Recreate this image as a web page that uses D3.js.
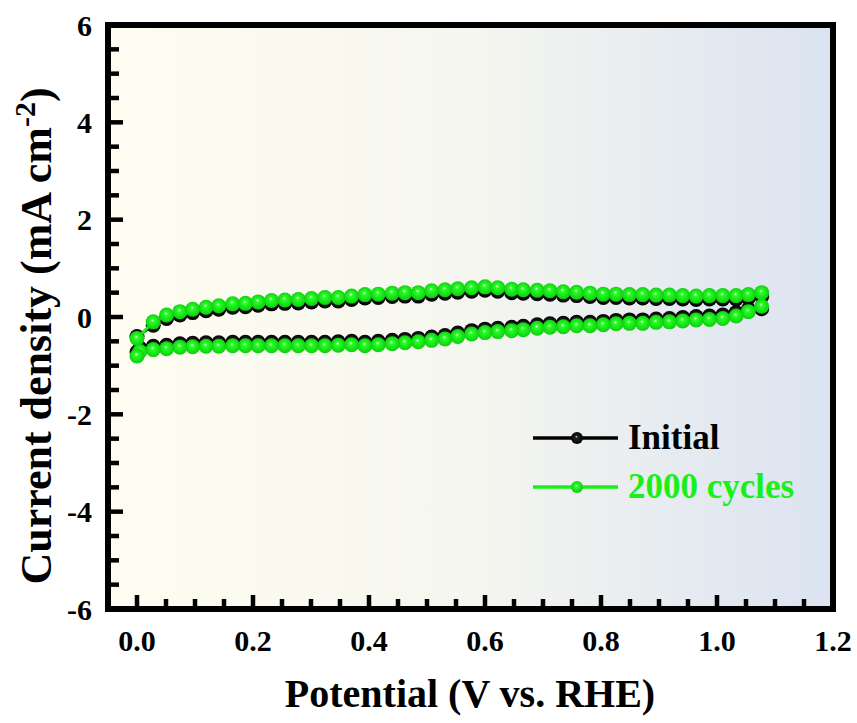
<!DOCTYPE html>
<html>
<head>
<meta charset="utf-8">
<script src="https://cdn.jsdelivr.net/npm/d3@7"></script>
<style>
  body { margin: 0; background: #fff; }
  text { font-family: "Liberation Serif", "Times New Roman", serif; font-weight: bold; }
</style>
</head>
<body>
<div id="chart"></div>
<script>
// potentials (V) for the anodic sweep and the cathodic return sweep
var fwdPotential = [0.000, 0.028, 0.051, 0.074, 0.096, 0.119, 0.141, 0.165, 0.187, 0.209, 0.232, 0.255,
  0.278, 0.301, 0.324, 0.347, 0.370, 0.393, 0.416, 0.440, 0.462, 0.485, 0.508, 0.531, 0.553, 0.577,
  0.600, 0.622, 0.646, 0.666, 0.690, 0.712, 0.735, 0.758, 0.781, 0.804, 0.826, 0.849, 0.872, 0.895,
  0.918, 0.941, 0.964, 0.987, 1.010, 1.033, 1.054, 1.077];
var revPotential = [1.077, 1.054, 1.033, 1.010, 0.987, 0.964, 0.941, 0.918, 0.895, 0.872, 0.849, 0.826,
  0.804, 0.781, 0.758, 0.735, 0.712, 0.690, 0.666, 0.646, 0.622, 0.600, 0.577, 0.553, 0.531, 0.508,
  0.485, 0.462, 0.440, 0.416, 0.393, 0.370, 0.347, 0.324, 0.301, 0.278, 0.255, 0.232, 0.209, 0.187,
  0.165, 0.141, 0.119, 0.096, 0.074, 0.051, 0.028, 0.005, 0.000];

// current density (mA cm-2)
var initialFwd = [-0.40, -0.17, -0.03, 0.04, 0.09, 0.13, 0.16, 0.20, 0.21, 0.24, 0.27, 0.28, 0.29, 0.31,
  0.33, 0.33, 0.36, 0.39, 0.40, 0.42, 0.43, 0.43, 0.47, 0.49, 0.51, 0.53, 0.55, 0.53, 0.50, 0.49, 0.48,
  0.47, 0.45, 0.44, 0.42, 0.40, 0.40, 0.39, 0.39, 0.38, 0.38, 0.37, 0.36, 0.37, 0.37, 0.37, 0.39, 0.42];
var initialRev = [0.17, 0.16, 0.09, 0.04, 0.02, 0.01, -0.01, -0.03, -0.04, -0.06, -0.06, -0.07, -0.09,
  -0.11, -0.11, -0.13, -0.14, -0.16, -0.19, -0.21, -0.23, -0.25, -0.28, -0.33, -0.38, -0.41, -0.44,
  -0.46, -0.48, -0.50, -0.52, -0.50, -0.51, -0.52, -0.52, -0.52, -0.52, -0.52, -0.52, -0.52, -0.52,
  -0.53, -0.53, -0.54, -0.55, -0.58, -0.60, -0.64, -0.72];
var cyclesFwd = [-0.44, -0.10, 0.04, 0.11, 0.16, 0.20, 0.23, 0.27, 0.28, 0.31, 0.34, 0.35, 0.36, 0.38,
  0.40, 0.40, 0.43, 0.46, 0.47, 0.49, 0.50, 0.50, 0.54, 0.56, 0.58, 0.60, 0.62, 0.60, 0.57, 0.56, 0.55,
  0.54, 0.52, 0.51, 0.49, 0.47, 0.47, 0.46, 0.46, 0.45, 0.45, 0.44, 0.43, 0.44, 0.44, 0.44, 0.46, 0.50];
var cyclesRev = [0.22, 0.11, 0.02, -0.03, -0.05, -0.06, -0.08, -0.10, -0.11, -0.13, -0.13, -0.14, -0.16,
  -0.18, -0.18, -0.20, -0.21, -0.23, -0.26, -0.28, -0.30, -0.32, -0.35, -0.40, -0.45, -0.48, -0.51,
  -0.53, -0.55, -0.57, -0.59, -0.57, -0.58, -0.59, -0.59, -0.59, -0.59, -0.59, -0.59, -0.59, -0.59,
  -0.60, -0.60, -0.61, -0.62, -0.65, -0.67, -0.71, -0.80];

var seriesNames = ["Initial", "2000 cycles"];
var seriesColors = ["#000000", "#18f018"];
var xTickLabels = ["0.0", "0.2", "0.4", "0.6", "0.8", "1.0", "1.2"];
var yTickLabels = ["-6", "-4", "-2", "0", "2", "4", "6"];

var width = 857, height = 723;
var x = d3.scaleLinear().domain([-0.05, 1.2]).range([108, 833]);
var y = d3.scaleLinear().domain([-6, 6]).range([609, 25]);

var svg = d3.select("#chart").append("svg")
    .attr("width", width)
    .attr("height", height);

var defs = svg.append("defs");
var bg = defs.append("linearGradient").attr("id", "bg");
bg.append("stop").attr("offset", "0%").attr("stop-color", "#fffdf1");
bg.append("stop").attr("offset", "50%").attr("stop-color", "#f5f6ef");
bg.append("stop").attr("offset", "100%").attr("stop-color", "#dbe3f1");

// shiny ball markers
function ball(id, hi, mid, edge) {
    var g = defs.append("radialGradient").attr("id", id)
        .attr("cx", "50%").attr("cy", "50%").attr("r", "55%")
        .attr("fx", "45%").attr("fy", "38%");
    g.append("stop").attr("offset", "0%").attr("stop-color", hi);
    g.append("stop").attr("offset", "22%").attr("stop-color", mid);
    g.append("stop").attr("offset", "100%").attr("stop-color", edge);
}
ball("ballGreen", "#f4fff4", "#26ff26", "#0cc80c");
ball("ballBlack", "#c8c8c8", "#202020", "#000000");

svg.append("rect")
    .attr("x", x(-0.05)).attr("y", y(6))
    .attr("width", x(1.2) - x(-0.05))
    .attr("height", y(-6) - y(6))
    .attr("fill", "url(#bg)");

var series = [
    { name: seriesNames[0], color: seriesColors[0], ball: "url(#ballBlack)",
      pts: fwdPotential.map(function(v, i) { return [v, initialFwd[i]]; })
        .concat(revPotential.map(function(v, i) { return [v, initialRev[i]]; })) },
    { name: seriesNames[1], color: seriesColors[1], ball: "url(#ballGreen)",
      pts: fwdPotential.map(function(v, i) { return [v, cyclesFwd[i]]; })
        .concat(revPotential.map(function(v, i) { return [v, cyclesRev[i]]; })) }
];

var line = d3.line()
    .x(function(d) { return x(d[0]); })
    .y(function(d) { return y(d[1]); });

series.forEach(function(s) {
    var g = svg.append("g");
    g.append("path")
        .datum(s.pts)
        .attr("d", line)
        .attr("fill", "none")
        .attr("stroke", s.color)
        .attr("stroke-width", 3);
    g.selectAll("circle")
        .data(s.pts)
        .enter().append("circle")
        .attr("cx", function(d) { return x(d[0]); })
        .attr("cy", function(d) { return y(d[1]); })
        .attr("r", 7.5)
        .attr("fill", s.ball);
});

// ticks, inward, left and bottom only
var axes = svg.append("g");
d3.range(-12, 13).forEach(function(k) {
    var v = k / 2, major = k % 4 === 0;
    axes.append("line")
        .attr("x1", x(-0.05)).attr("x2", x(-0.05) + (major ? 15 : 11))
        .attr("y1", y(v)).attr("y2", y(v))
        .attr("stroke", "#000").attr("stroke-width", 4.5);
});
d3.range(0, 25).forEach(function(k) {
    var v = k * 0.05, major = k % 4 === 0;
    axes.append("line")
        .attr("x1", x(v)).attr("x2", x(v))
        .attr("y1", y(-6)).attr("y2", y(-6) - (major ? 14 : 10))
        .attr("stroke", "#000").attr("stroke-width", 4.5);
});

svg.append("rect")
    .attr("x", x(-0.05)).attr("y", y(6))
    .attr("width", x(1.2) - x(-0.05))
    .attr("height", y(-6) - y(6))
    .attr("fill", "none")
    .attr("stroke", "#000")
    .attr("stroke-width", 6);

svg.append("g").selectAll("text")
    .data(xTickLabels)
    .enter().append("text")
    .attr("x", function(d) { return x(+d); })
    .attr("y", 651)
    .attr("text-anchor", "middle")
    .attr("font-size", 30)
    .text(function(d) { return d; });

svg.append("g").selectAll("text")
    .data(yTickLabels)
    .enter().append("text")
    .attr("x", 92)
    .attr("y", function(d) { return y(+d); })
    .attr("dy", "0.35em")
    .attr("text-anchor", "end")
    .attr("font-size", 30)
    .text(function(d) { return d; });

svg.append("text")
    .attr("x", 470)
    .attr("y", 707)
    .attr("text-anchor", "middle")
    .attr("font-size", 40)
    .text("Potential (V vs. RHE)");

var yt = svg.append("text")
    .attr("transform", "translate(51,336) rotate(-90)")
    .attr("text-anchor", "middle")
    .attr("font-size", 44);
yt.append("tspan").text("Current density (mA cm");
yt.append("tspan").attr("dy", -16).attr("font-size", 30).text("-2");
yt.append("tspan").attr("dy", 16).text(")");

// legend
var legend = svg.append("g");
series.forEach(function(s, i) {
    var ly = 438 + i * 49;
    legend.append("line")
        .attr("x1", 533).attr("x2", 618)
        .attr("y1", ly).attr("y2", ly)
        .attr("stroke", s.color).attr("stroke-width", 3.5);
    legend.append("circle")
        .attr("cx", 577).attr("cy", ly).attr("r", 6)
        .attr("fill", s.ball);
    legend.append("text")
        .attr("x", 628).attr("y", ly + 11)
        .attr("font-size", 35)
        .attr("fill", s.color)
        .text(s.name);
});
</script>
</body>
</html>
